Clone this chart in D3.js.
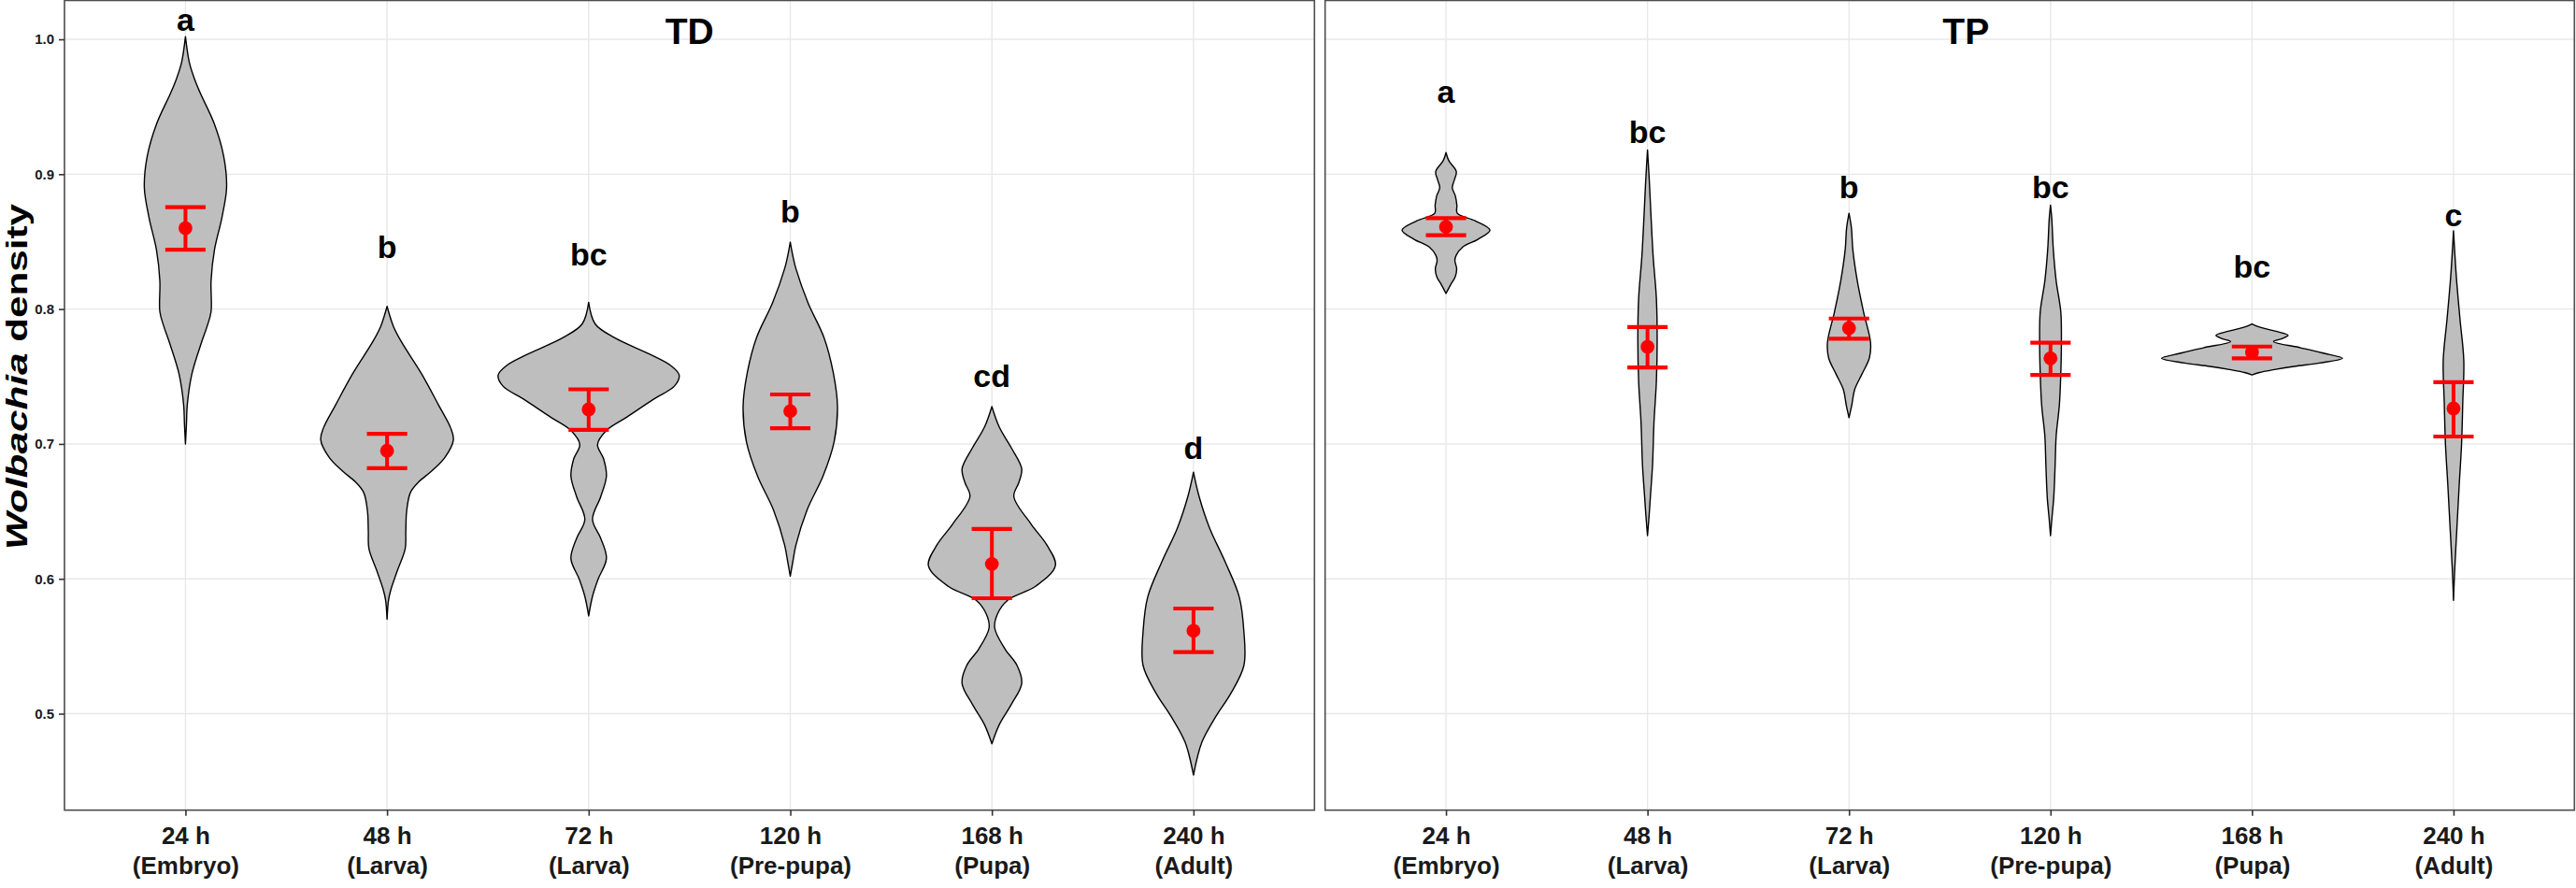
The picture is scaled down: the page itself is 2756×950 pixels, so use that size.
<!DOCTYPE html>
<html>
<head>
<meta charset="utf-8">
<script src="https://cdn.jsdelivr.net/npm/d3@7"></script>
<style>
  html, body { margin: 0; padding: 0; background: #ffffff; }
  svg { display: block; font-family: "Liberation Sans", Arial, Helvetica, sans-serif; }
</style>
</head>
<body>
<svg id="chart" width="2756" height="950"></svg>
<script>
// ---------------- data ----------------
const timeLabels  = ["24 h", "48 h", "72 h", "120 h", "168 h", "240 h"];
const stageLabels = ["(Embryo)", "(Larva)", "(Larva)", "(Pre-pupa)", "(Pupa)", "(Adult)"];
const panelNames  = ["TD", "TP"];
const panelTitlePos = [2.5, 2.58];            // in category index units
const yTicks = [0.5, 0.6, 0.7, 0.8, 0.9, 1.0];
const yDomain = [0.4285, 1.0288];

// TD summary (mean +/- error)
const tdMean  = [0.860, 0.695, 0.7256, 0.7243, 0.611, 0.5615];
const tdLower = [0.844, 0.682, 0.7105, 0.7117, 0.5856, 0.5457];
const tdUpper = [0.8755, 0.7075, 0.7405, 0.7367, 0.637, 0.578];
const tdLetters = ["a", "b", "bc", "b", "cd", "d"];
const tdLetterY = [1.006, 0.838, 0.832, 0.864, 0.742, 0.689];

// TP summary
const tpMean  = [0.861, 0.772, 0.7859, 0.7635, 0.7681, 0.7263];
const tpLower = [0.8547, 0.7567, 0.778, 0.7512, 0.7635, 0.7055];
const tpUpper = [0.8674, 0.7867, 0.793, 0.775, 0.7722, 0.7458];
const tpLetters = ["a", "bc", "b", "bc", "bc", "c"];
const tpLetterY = [0.953, 0.923, 0.882, 0.882, 0.8233, 0.8615];

// Violin outlines: [density value, half-width in % of category step]
const tdViolins = [
  [[1.002,0],[0.983,1.9],[0.971,4.4],[0.96,7.4],[0.937,14.4],[0.913,19.0],[0.89,20.4],[0.868,18.1],[0.844,14.4],[0.821,12.7],[0.798,12.7],[0.787,10.7],[0.775,7.9],[0.752,3.2],[0.729,0.9],[0.715,0.5],[0.70,0]],
  [[0.802,0],[0.787,3.2],[0.775,7.4],[0.752,17.1],[0.729,25.5],[0.712,31.5],[0.703,32.9],[0.69,28.7],[0.68,22.2],[0.672,15.8],[0.664,11.6],[0.65,9.7],[0.635,9.3],[0.6225,9.0],[0.606,5.1],[0.592,1.9],[0.584,0.7],[0.570,0]],
  [[0.805,0],[0.789,3.2],[0.779,12.5],[0.766,31.0],[0.758,40.8],[0.751,44.9],[0.743,42.6],[0.733,32.0],[0.720,19.0],[0.710,8.8],[0.6995,4.4],[0.689,7.4],[0.676,8.8],[0.661,6.0],[0.644,1.9],[0.630,6.0],[0.615,8.8],[0.5995,4.6],[0.587,1.9],[0.5726,0]],
  [[0.8496,0],[0.84,1.2],[0.830,2.8],[0.8046,8.8],[0.779,16.7],[0.753,21.3],[0.728,23.4],[0.702,21.8],[0.676,16.2],[0.651,8.3],[0.625,2.8],[0.612,1.2],[0.602,0]],
  [[0.7277,0],[0.7124,3.7],[0.697,9.7],[0.6815,14.8],[0.6715,13.4],[0.661,10.9],[0.6405,19.5],[0.625,27.3],[0.6098,31.5],[0.5946,21.8],[0.5842,7.9],[0.574,2.8],[0.5636,1.4],[0.548,6.5],[0.5357,12.5],[0.5225,14.8],[0.507,9.7],[0.492,3.7],[0.4777,0]],
  [[0.679,0],[0.661,2.8],[0.638,7.9],[0.6123,15.8],[0.5866,22.7],[0.561,25.0],[0.5357,25.0],[0.515,18.5],[0.497,10.7],[0.479,4.2],[0.4546,0]]
];
const tpViolins = [
  [[0.916,0],[0.910,1.4],[0.902,5.1],[0.896,4.2],[0.890,3.1],[0.884,4.6],[0.877,5.4],[0.871,5.6],[0.8655,14.4],[0.8586,21.8],[0.8517,15.8],[0.846,8.3],[0.840,5.1],[0.836,4.4],[0.830,5.3],[0.824,4.6],[0.818,2.3],[0.8115,0]],
  [[0.918,0],[0.895,0.9],[0.870,1.7],[0.839,2.8],[0.808,4.4],[0.7775,4.8],[0.7464,4.4],[0.7155,3.2],[0.6846,2.5],[0.66,1.4],[0.645,0.7],[0.632,0]],
  [[0.871,0],[0.86,1.2],[0.844,1.9],[0.821,4.1],[0.798,7.2],[0.775,10.7],[0.7637,10.1],[0.752,6.5],[0.7403,2.8],[0.729,1.4],[0.7195,0]],
  [[0.877,0],[0.8676,0.6],[0.844,1.4],[0.821,2.8],[0.798,5.1],[0.775,5.4],[0.752,5.1],[0.729,4.4],[0.7057,2.8],[0.6846,2.3],[0.66,1.6],[0.645,0.7],[0.632,0]],
  [[0.789,0],[0.7867,3.7],[0.7835,12.0],[0.7805,17.9],[0.778,14.8],[0.7759,10.7],[0.7713,24.1],[0.7675,34.8],[0.7635,44.9],[0.760,33.4],[0.7575,20.9],[0.7551,11.1],[0.753,3.7],[0.7512,0]],
  [[0.858,0],[0.824,1.4],[0.7928,3.2],[0.762,5.1],[0.731,4.6],[0.700,4.0],[0.669,2.8],[0.638,1.7],[0.607,0.6],[0.584,0]]
];

// ---------------- layout ----------------
const svg = d3.select("#chart");
const panelTop = 0.5, panelBottom = 866.7;
const panelX = [[69, 1406.3], [1417.7, 2754.3]];
const FONT = '"Liberation Sans", Arial, Helvetica, sans-serif';

const y = d3.scaleLinear().domain(yDomain).range([panelBottom, panelTop]);

const panels = [
  {name: panelNames[0], mean: tdMean, lo: tdLower, hi: tdUpper, letters: tdLetters, letterY: tdLetterY, violins: tdViolins, titlePos: panelTitlePos[0]},
  {name: panelNames[1], mean: tpMean, lo: tpLower, hi: tpUpper, letters: tpLetters, letterY: tpLetterY, violins: tpViolins, titlePos: panelTitlePos[1]}
];

panels.forEach((p, pi) => {
  const [x0, x1] = panelX[pi];
  const x = d3.scalePoint().domain(timeLabels).range([x0, x1]).padding(0.6);
  const step = x.step();
  const w = d3.scaleLinear().domain([0, 100]).range([0, step]);
  const idx = d3.scaleLinear().domain([0, 1]).range([x(timeLabels[0]), x(timeLabels[1])]);
  const g = svg.append("g");

  // background + grid
  g.append("rect").attr("x", x0).attr("y", panelTop).attr("width", x1 - x0).attr("height", panelBottom - panelTop).attr("fill", "#fff");
  g.selectAll("line.hg").data(yTicks).join("line")
    .attr("x1", x0).attr("x2", x1).attr("y1", d => y(d)).attr("y2", d => y(d))
    .attr("stroke", "#e8e8e8").attr("stroke-width", 1.4);
  g.selectAll("line.vg").data(timeLabels).join("line")
    .attr("x1", d => x(d)).attr("x2", d => x(d)).attr("y1", panelTop).attr("y2", panelBottom)
    .attr("stroke", "#e8e8e8").attr("stroke-width", 1.4);

  // violins
  timeLabels.forEach((cat, i) => {
    const cx = x(cat);
    const area = d3.area()
      .y(d => y(d[0]))
      .x0(d => cx - w(d[1]))
      .x1(d => cx + w(d[1]))
      .curve(d3.curveCatmullRom.alpha(0.5));
    g.append("path").datum(p.violins[i]).attr("d", area)
      .attr("fill", "#bebebe").attr("stroke", "#000").attr("stroke-width", 1.4)
      .attr("stroke-linejoin", "round");
  });

  // error bars
  const capHalf = step * 0.1;
  timeLabels.forEach((cat, i) => {
    const cx = x(cat);
    g.append("line").attr("x1", cx).attr("x2", cx).attr("y1", y(p.hi[i])).attr("y2", y(p.lo[i]))
      .attr("stroke", "#ff0000").attr("stroke-width", 4);
    [p.hi[i], p.lo[i]].forEach(v => {
      g.append("line").attr("x1", cx - capHalf).attr("x2", cx + capHalf).attr("y1", y(v)).attr("y2", y(v))
        .attr("stroke", "#ff0000").attr("stroke-width", 4.2);
    });
    g.append("circle").attr("cx", cx).attr("cy", y(p.mean[i])).attr("r", 7.4).attr("fill", "#ff0000");
  });

  // letters
  g.selectAll("text.letter").data(timeLabels).join("text")
    .attr("x", d => x(d)).attr("y", (d, i) => y(p.letterY[i]))
    .attr("text-anchor", "middle").attr("font-family", FONT).attr("font-weight", "bold")
    .attr("font-size", 34).attr("fill", "#000").text((d, i) => p.letters[i]);

  // panel title
  g.append("text").attr("x", idx(p.titlePos)).attr("y", 47)
    .attr("text-anchor", "middle").attr("font-family", FONT).attr("font-weight", "bold")
    .attr("font-size", 39).attr("fill", "#000").text(p.name);

  // border
  g.append("rect").attr("x", x0).attr("y", panelTop).attr("width", x1 - x0).attr("height", panelBottom - panelTop)
    .attr("fill", "none").attr("stroke", "#4d4d4d").attr("stroke-width", 1.6);

  // x axis
  const xa = svg.append("g").attr("transform", `translate(0,${panelBottom})`)
    .call(d3.axisBottom(x).tickSize(6).tickSizeOuter(0));
  xa.select(".domain").remove();
  xa.selectAll(".tick line").attr("stroke", "#333").attr("stroke-width", 1.6);
  xa.selectAll(".tick text").remove();
  xa.selectAll(".tick").each(function(d, i) {
    const t = d3.select(this).append("text").attr("text-anchor", "middle")
      .attr("font-family", FONT).attr("font-weight", "bold").attr("font-size", 26).attr("fill", "#1a1a1a");
    t.append("tspan").attr("x", 0).attr("y", 36.3).text(d);
    t.append("tspan").attr("x", 0).attr("y", 68.5).text(stageLabels[i]);
  });

  // y axis (left panel only)
  if (pi === 0) {
    const ya = svg.append("g").attr("transform", `translate(${x0},0)`)
      .call(d3.axisLeft(y).tickValues(yTicks).tickFormat(d3.format(".1f")).tickSize(6).tickPadding(5));
    ya.select(".domain").remove();
    ya.selectAll(".tick line").attr("stroke", "#333").attr("stroke-width", 1.6);
    ya.selectAll(".tick text").attr("font-family", FONT).attr("font-weight", "bold")
      .attr("font-size", 15).attr("fill", "#1a1a1a");
  }
});

// y axis title
const yt = svg.append("text")
  .attr("transform", "translate(29,403) rotate(-90)")
  .attr("text-anchor", "middle").attr("font-family", FONT).attr("font-weight", "bold")
  .attr("font-size", 31).attr("fill", "#000")
  .attr("textLength", 370).attr("lengthAdjust", "spacingAndGlyphs");
yt.append("tspan").attr("font-style", "italic").text("Wolbachia");
yt.append("tspan").text(" density");
</script>
</body>
</html>
